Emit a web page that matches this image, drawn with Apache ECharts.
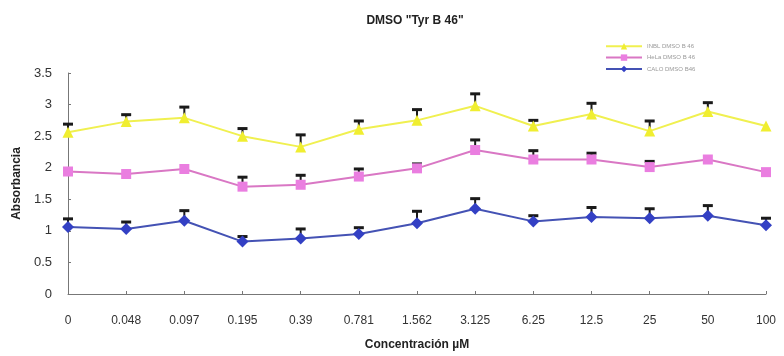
<!DOCTYPE html>
<html>
<head>
<meta charset="utf-8">
<script src="https://cdn.jsdelivr.net/npm/echarts@6/dist/echarts.min.js"></script>
<style>
  html, body { margin: 0; padding: 0; background: #fff; }
  #chart { width: 784px; height: 356px; }
</style>
</head>
<body>
<div id="chart"></div>
<script>
// Concentration steps (µM)
const categories = ['0', '0.048', '0.097', '0.195', '0.39', '0.781', '1.562', '3.125', '6.25', '12.5', '25', '50', '100'];

// Mean absorbance per cell line
const inbl = [2.56, 2.73, 2.79, 2.50, 2.33, 2.61, 2.75, 2.98, 2.66, 2.85, 2.58, 2.89, 2.66];
const hela = [1.94, 1.90, 1.98, 1.70, 1.73, 1.86, 1.99, 2.28, 2.13, 2.13, 2.01, 2.13, 1.93];
const calo = [1.06, 1.03, 1.16, 0.83, 0.88, 0.95, 1.12, 1.35, 1.15, 1.22, 1.20, 1.24, 1.09];

// Upper error (standard deviation); 0 where no bar is drawn
const inblErr = [0.13, 0.11, 0.17, 0.12, 0.19, 0.13, 0.17, 0.19, 0.09, 0.17, 0.16, 0.14, 0];
const helaErr = [0, 0, 0, 0.15, 0.15, 0.12, 0.07, 0.16, 0.14, 0.10, 0.09, 0, 0];
const caloErr = [0.13, 0.11, 0.16, 0.08, 0.15, 0.10, 0.19, 0.16, 0.09, 0.15, 0.15, 0.16, 0.11];

const seriesNames = ['INBL DMSO B 46', 'HeLa DMSO B 46', 'CALO DMSO B46'];

const chart = echarts.init(document.getElementById('chart'));

function errorData(vals, errs) {
  return vals.map((v, i) => [i, v, v + errs[i]]);
}

function renderErr(params, api) {
  if (api.value(2) <= api.value(1)) return null;
  const top = api.coord([api.value(0), api.value(2)]);
  const base = api.coord([api.value(0), api.value(1)]);
  const half = 5;
  return {
    type: 'group',
    children: [
      { type: 'line', shape: { x1: base[0], y1: base[1], x2: top[0], y2: top[1] },
        style: { stroke: '#1a1a1a', lineWidth: 2 } },
      { type: 'line', shape: { x1: top[0] - half, y1: top[1], x2: top[0] + half, y2: top[1] },
        style: { stroke: '#1a1a1a', lineWidth: 3 } }
    ]
  };
}

function errSeries(vals, errs) {
  return {
    type: 'custom',
    renderItem: renderErr,
    data: errorData(vals, errs),
    encode: { x: 0, y: [1, 2] },
    z: 1,
    silent: true
  };
}

const lineStyleBase = { width: 2 };

chart.setOption({
  animation: false,
  textStyle: { fontFamily: 'Liberation Sans, Arial, sans-serif' },
  title: {
    text: 'DMSO "Tyr B 46"',
    left: 410,
    textAlign: 'center',
    top: 10,
    textStyle: { fontSize: 12, fontWeight: 'bold', color: '#222' }
  },
  legend: {
    orient: 'vertical',
    left: 600,
    top: 38,
    itemWidth: 36,
    itemHeight: 8,
    itemGap: 5,
    textStyle: { fontSize: 6, color: '#999' },
    data: seriesNames
  },
  grid: { left: 68, right: 18, top: 73, bottom: 59 },
  xAxis: {
    type: 'category',
    data: categories,
    boundaryGap: false,
    name: 'Concentración µM',
    nameLocation: 'middle',
    nameGap: 45,
    nameTextStyle: { fontSize: 12, fontWeight: 'bold', color: '#222' },
    axisLine: { lineStyle: { color: '#777', width: 1 } },
    axisTick: { inside: true, length: 3, lineStyle: { color: '#777' } },
    axisLabel: { fontSize: 12, color: '#333', margin: 21 },
    splitLine: { show: false }
  },
  yAxis: {
    type: 'value',
    min: 0,
    max: 3.5,
    interval: 0.5,
    name: 'Absorbancia',
    nameLocation: 'middle',
    nameGap: 45,
    nameTextStyle: { fontSize: 12, fontWeight: 'bold', color: '#222' },
    axisLine: { show: true, lineStyle: { color: '#777', width: 1 } },
    axisTick: { show: true, inside: true, length: 3, lineStyle: { color: '#777' } },
    axisLabel: { fontSize: 13, color: '#333', margin: 16 },
    splitLine: { show: false }
  },
  series: [
    {
      name: seriesNames[0], type: 'line', data: inbl, z: 3,
      symbol: 'triangle', symbolSize: 11,
      itemStyle: { color: '#f0ee30' },
      lineStyle: Object.assign({ color: '#f0f050' }, lineStyleBase)
    },
    {
      name: seriesNames[1], type: 'line', data: hela, z: 3,
      symbol: 'rect', symbolSize: 10,
      itemStyle: { color: '#ea7ee0' },
      lineStyle: Object.assign({ color: '#d977c4' }, lineStyleBase)
    },
    {
      name: seriesNames[2], type: 'line', data: calo, z: 3,
      symbol: 'diamond', symbolSize: 12,
      itemStyle: { color: '#3340c4' },
      lineStyle: Object.assign({ color: '#4452b4' }, lineStyleBase)
    },
    errSeries(inbl, inblErr),
    errSeries(hela, helaErr),
    errSeries(calo, caloErr)
  ]
});
</script>
</body>
</html>
